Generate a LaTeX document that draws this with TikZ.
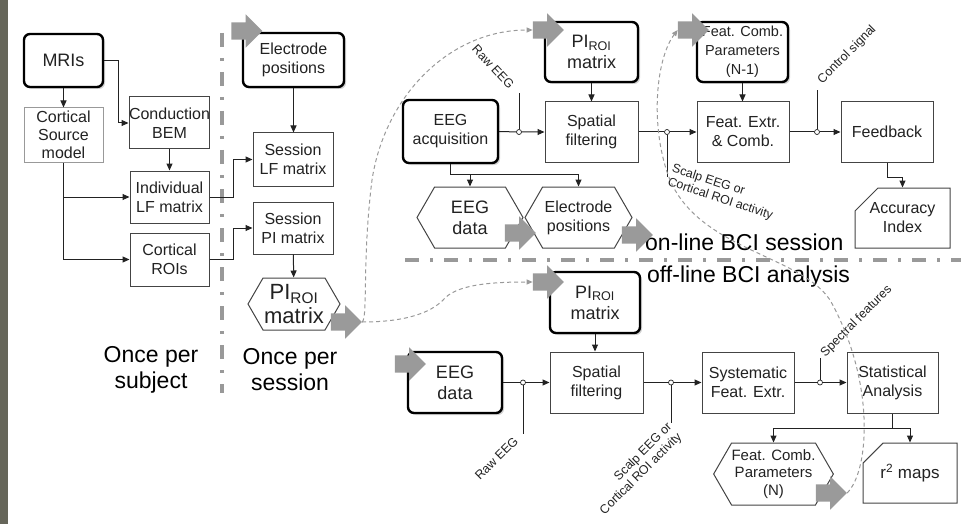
\documentclass[tikz,border=0pt]{standalone}
\usepackage{fontspec}
\setmainfont{Liberation Sans}
\usetikzlibrary{positioning, arrows.meta, shapes.symbols, shapes.misc, shapes.arrows, shadows}
\definecolor{stripC}{HTML}{66665A}
\definecolor{fatC}{HTML}{9A9A9A}
\definecolor{inkC}{HTML}{222222}
\definecolor{edgeC}{HTML}{444444}

\begin{document}
\begin{tikzpicture}[x=1pt, y=-1pt,
  box/.style={rectangle, draw=edgeC, line width=1pt, fill=white, inner sep=0pt,
              text=inkC, align=center, font=\fontsize{16}{19}\selectfont},
  rbox/.style={box, draw=black, line width=2.4pt, rounded corners=6pt,
               drop shadow={shadow xshift=2pt, shadow yshift=-2pt, fill=black!35}},
  hexbox/.style={box, signal, signal to=west and east, signal pointer angle=120},
  card/.style={box, chamfered rectangle, chamfered rectangle corners=north west,
               chamfered rectangle xsep=12pt, chamfered rectangle ysep=11pt},
  fat/.style={single arrow, fill=fatC, draw=none, inner xsep=0pt, inner ysep=8.5pt,
              minimum height=31pt, single arrow head extend=8pt},
  arr/.style={-{Triangle[length=7pt, width=6pt]}, line width=1pt, inkC},
  tap/.style={circle, draw=inkC, fill=white, line width=0.7pt, inner sep=0pt, minimum size=5pt},
  tapline/.style={line width=0.8pt, inkC},
  lbl/.style={font=\fontsize{12.5}{14}\selectfont, text=inkC, inner sep=0pt},
  big/.style={font=\fontsize{23}{26}\selectfont, text=black, align=center, inner sep=0pt},
  link/.style={black!40, line width=1pt, dash pattern=on 4pt off 3pt,
               -{Triangle[length=6pt, width=5pt]}},
  sepline/.style={black!40, line width=3.5pt, dash pattern=on 14pt off 11pt on 3pt off 11pt}
]
\useasboundingbox (0,0) rectangle (961,524);
\fill[stripC] (0,0) rectangle (8,524);

% once per subject
\node[rbox, minimum width=79pt, minimum height=53pt, font=\fontsize{18}{21}\selectfont] (mri) at (63.5,60.5) {MRIs};
\node[box, draw=black!40, minimum width=79pt, minimum height=54pt, font=\fontsize{16}{18}\selectfont] (csm) at (63.5,135) {Cortical\\Source\\model};
\node[box, minimum width=79pt, minimum height=52pt] (bem) at (169.5,123) {Conduction\\BEM};
\node[box, minimum width=79pt, minimum height=52pt] (ilf) at (169.5,197) {Individual\\LF matrix};
\node[box, minimum width=79pt, minimum height=53pt] (roi) at (169.5,259.5) {Cortical\\ROIs};

% once per session
\node[rbox, minimum width=101pt, minimum height=54pt] (elec) at (293.5,60) {Electrode\\positions};
\node[box, minimum width=80pt, minimum height=53pt] (slf) at (293,159.5) {Session\\LF matrix};
\node[box, minimum width=80pt, minimum height=52pt] (spi) at (293,228) {Session\\PI matrix};
\node[hexbox, minimum width=92pt, minimum height=52pt, font=\fontsize{22}{24}\selectfont] (pihex) at (294,304) {PI\textsubscript{ROI}\\matrix};

\node[big] (subj) at (151,370) {Once per\\subject};
\node[big] (sess) at (290,370) {Once per\\session};
\draw[sepline] (222,33) -- (222,393);

% on-line session
\node[rbox, minimum width=93pt, minimum height=60pt, font=\fontsize{18}{21}\selectfont] (pion) at (591.5,52) {PI\textsubscript{ROI}\\matrix};
\node[box, minimum width=93pt, minimum height=60pt] (sfon) at (591.5,132) {Spatial\\filtering};
\node[rbox, minimum width=95pt, minimum height=63pt] (acq) at (450.5,131.5) {EEG\\acquisition};
\node[hexbox, minimum width=106pt, minimum height=61pt, font=\fontsize{18}{21}\selectfont] (eegd) at (470,217.5) {EEG\\data};
\node[hexbox, minimum width=107pt, minimum height=61pt] (elon) at (578.5,217.5) {Electrode\\positions};
\node[rbox, minimum width=91pt, minimum height=60pt, font=\fontsize{14.5}{19}\selectfont] (fcpA) at (742.5,52) {Feat. Comb.\\Parameters\\(N-1)};
\node[box, minimum width=92pt, minimum height=60pt] (fex) at (743,132) {Feat. Extr.\\\& Comb.};
\node[box, minimum width=92pt, minimum height=60pt] (fb) at (887,132) {Feedback};
\node[card, minimum width=95pt, minimum height=60pt] (acc) at (902.5,218) {Accuracy\\Index};
\node[tap] (tA) at (519,132) {};
\node[tap] (tB) at (667,132) {};
\node[tap] (tC) at (817,132) {};

% off-line analysis
\node[rbox, minimum width=90pt, minimum height=61pt, font=\fontsize{18}{21}\selectfont] (pioff) at (595,302.5) {PI\textsubscript{ROI}\\matrix};
\node[box, minimum width=93pt, minimum height=61pt] (sfoff) at (596.5,382.5) {Spatial\\filtering};
\node[rbox, minimum width=94pt, minimum height=61pt, font=\fontsize{18}{21}\selectfont] (eegoff) at (455,382.5) {EEG\\data};
\node[box, minimum width=92pt, minimum height=61pt] (sys) at (748,382.5) {Systematic\\Feat. Extr.};
\node[box, minimum width=91pt, minimum height=61pt] (stat) at (892.5,382.5) {Statistical\\Analysis};
\node[hexbox, minimum width=117pt, minimum height=62pt, font=\fontsize{15}{17.5}\selectfont] (fcpB) at (773.5,474) {Feat. Comb.\\Parameters\\(N)};
\node[card, minimum width=94pt, minimum height=60pt, font=\fontsize{17}{20}\selectfont] (rmap) at (910,473) {r\textsuperscript{2} maps};
\node[tap] (tD) at (523,382.5) {};
\node[tap] (tE) at (671,382.5) {};
\node[tap] (tF) at (820,382.5) {};

\draw[sepline] (405,260) -- (961,260);
\node[big, anchor=base west] (onl) at (645,250) {on-line BCI session};
\node[big, anchor=base west] (offl) at (647,282) {off-line BCI analysis};

% connectors, subject and session
\draw[arr] (mri) -- (csm);
\draw[arr] (mri.east) -- ++(14,0) |- (bem.west);
\draw[arr] (bem) -- (ilf);
\draw[arr] (csm.south) |- (roi.west);
\draw[arr] (csm.south |- ilf.west) -- (ilf.west);
\draw[arr] (ilf.east) -- ++(24,0) |- (slf.west);
\draw[arr] (roi.east) -- ++(24,0) |- (spi.west);
\draw[arr] (elec.south |- elec.south) -- (elec.south |- slf.north);
\draw[arr] (spi) -- (pihex);

% connectors, on-line
\draw[arr] (acq.east) -- (tA) -- (sfon.west);
\draw[arr] (pion) -- (sfon);
\draw[arr] (acq.south) -- ++(0,10) -| (elon.north);
\draw[arr] (acq.south) ++(0,10) -| (eegd.north);
\draw[arr] (sfon.east) -- (tB) -- (fex.west);
\draw[arr] (fcpA.south) -- (fcpA.south |- fex.north);
\draw[arr] (fex.east) -- (tC) -- (fb.west);
\draw[arr] (fb.south) -- ++(0,15) -| (acc.north);
\draw[tapline] (tA) -- ++(0,-39);
\draw[tapline] (tB) -- ++(0,45);
\draw[tapline] (tC) -- ++(0,-42);
\node[lbl, rotate=-47, anchor=east] (rawA) at (512,87) {Raw EEG};
\node[lbl, rotate=-18, anchor=north west, align=left] (scalpA) at (674,163) {Scalp EEG or\\Cortical ROI activity};
\node[lbl, rotate=45, anchor=west] (ctrl) at (820,82) {Control signal};

% connectors, off-line
\draw[arr] (pioff.south) -- (pioff.south |- sfoff.north);
\draw[arr] (eegoff.east) -- (tD) -- (sfoff.west);
\draw[arr] (sfoff.east) -- (tE) -- (sys.west);
\draw[arr] (sys.east) -- (tF) -- (stat.west);
\draw[arr] (stat.south) -- ++(0,15) -| (fcpB.north);
\draw[arr] (stat.south) ++(0,15) -| (rmap.north);
\draw[tapline] (tD) -- ++(0,51);
\draw[tapline] (tE) -- ++(0,40);
\draw[tapline] (tF) -- ++(0,-25);
\node[lbl, rotate=45, anchor=east] (rawB) at (516,439) {Raw EEG};
\node[lbl, rotate=45, anchor=north east, align=right] (scalpB) at (666,421) {Scalp EEG or\\Cortical ROI activity};
\node[lbl, rotate=45, anchor=west] (spec) at (823,355) {Spectral features};

% grey block arrows
\node[fat] (faIn) at (242.5,31) {};
\node[fat] (faOut) at (342,322) {};
\node[fat] (faPion) at (544,30) {};
\node[fat] (faEegd) at (516,233) {};
\node[fat] (faElon) at (633,235) {};
\node[fat] (faFcp) at (689,30) {};
\node[fat] (faPioff) at (544,282) {};
\node[fat] (faEegoff) at (406,364) {};
\node[fat] (faFcpB) at (827,493) {};

% dashed links between sessions
\draw[link] (faOut.tip) .. controls (368,318) and (362,260) .. (372,180)
  .. controls (385,95) and (450,30) .. (faPion.tail);
\draw[link] (faOut.tip) .. controls (400,322) and (430,315) .. (445,298)
  .. controls (460,283) and (500,282) .. (faPioff.tail);
\draw[link] (faFcpB.tip) .. controls (870,470) and (875,380) .. (830,300)
  .. controls (800,255) and (700,250) .. (670,180)
  .. controls (650,130) and (655,60) .. (faFcp.tail);
\end{tikzpicture}
\end{document}
